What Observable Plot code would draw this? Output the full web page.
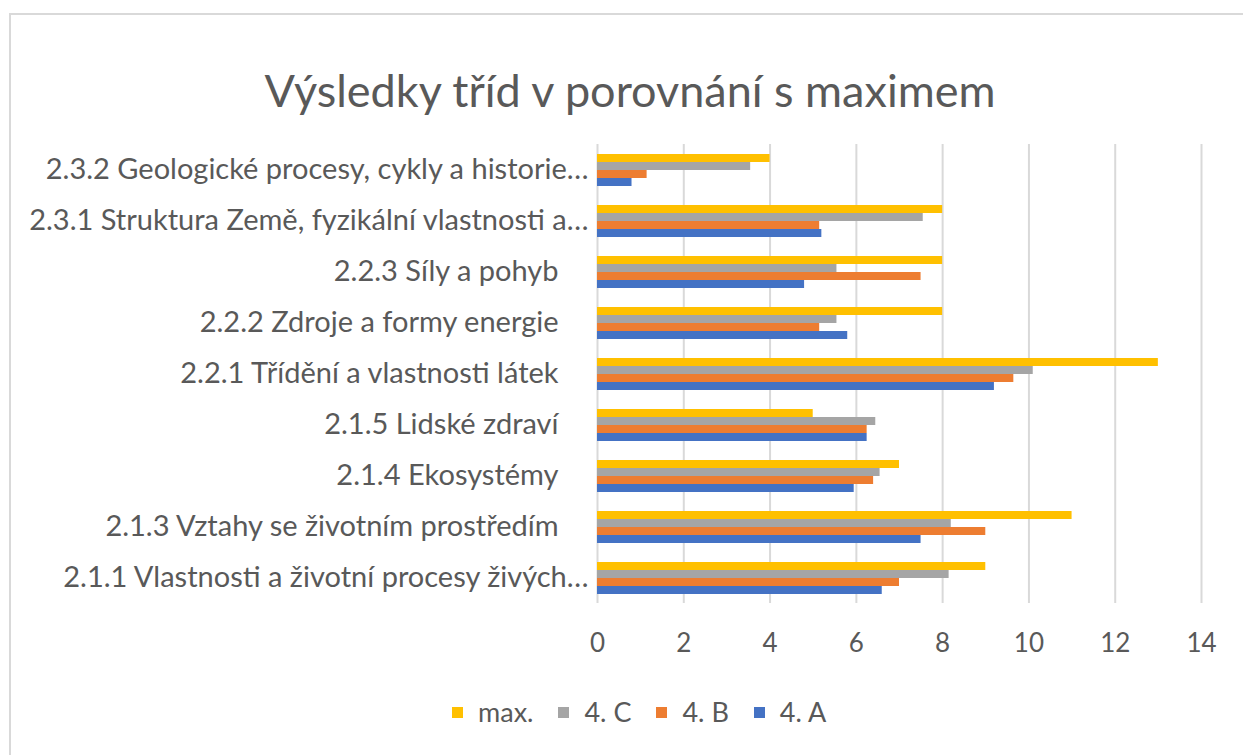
<!DOCTYPE html>
<html>
<head>
<meta charset="utf-8">
<script src="https://cdn.jsdelivr.net/npm/d3@7"></script>
<script src="https://cdn.jsdelivr.net/npm/@observablehq/plot@0.6"></script>
<style>
  html, body { margin: 0; padding: 0; background: #fff; width: 1243px; height: 755px; overflow: hidden; }
  #frame { position: absolute; left: 9px; top: 13px; width: 1300px; height: 800px;
           border-left: 2.5px solid #d9d9d9; border-top: 2.5px solid #d9d9d9; box-sizing: border-box; }
  #title { position: absolute; left: 0; top: 62px; width: 1260px; text-align: center;
           font-family: Lato, "Open Sans", sans-serif; font-size: 45px; color: #595959; line-height: 56px; white-space: nowrap; }
  #chart { position: absolute; left: 0; top: 130px; }
  #legend { position: absolute; top: 694px; left: 452px; display: flex;
            font-family: Lato, "Open Sans", sans-serif; font-size: 27px; color: #595959; line-height: 36px; }
  .item { display: flex; align-items: center; margin-right: 25px; }
  .sw { width: 11px; height: 11px; margin-right: 15px; }
</style>
</head>
<body>
<div id="frame"></div>
<div id="title">Výsledky tříd v porovnání s maximem</div>
<div id="chart"></div>
<div id="legend"></div>
<script>
const categories = [
  "2.3.2 Geologické procesy, cykly a historie…",
  "2.3.1 Struktura Země, fyzikální vlastnosti a…",
  "2.2.3 Síly a pohyb",
  "2.2.2 Zdroje a formy energie",
  "2.2.1 Třídění a vlastnosti látek",
  "2.1.5 Lidské zdraví",
  "2.1.4 Ekosystémy",
  "2.1.3 Vztahy se životním prostředím",
  "2.1.1 Vlastnosti a životní procesy živých…"
];
const series = ["max.", "4. C", "4. B", "4. A"];
const seriesColors = ["#FFC000", "#A5A5A5", "#ED7D31", "#4472C4"];
const maxValues = [4, 8, 8, 8, 13, 5, 7, 11, 9];
const classC = [3.55, 7.55, 5.55, 5.55, 10.1, 6.45, 6.55, 8.2, 8.15];
const classB = [1.15, 5.15, 7.5, 5.15, 9.65, 6.25, 6.4, 9.0, 7.0];
const classA = [0.8, 5.2, 4.8, 5.8, 9.2, 6.25, 5.95, 7.5, 6.6];
const xTicks = [0, 2, 4, 6, 8, 10, 12, 14];

const seriesValues = [maxValues, classC, classB, classA];
const table = categories.flatMap((c, i) =>
  series.map((s, j) => ({category: c, series: s, value: seriesValues[j][i]})));

const truncated = categories.filter(c => c.endsWith("…"));
const full = categories.filter(c => !c.endsWith("…"));

const chart = Plot.plot({
  width: 1243,
  height: 540,
  marginTop: 13,
  marginBottom: 67,
  marginLeft: 597,
  marginRight: 42,
  style: {fontFamily: "Lato, 'Open Sans', sans-serif", fontSize: "29px", color: "#595959", background: "transparent"},
  x: {domain: [0, 14], axis: null},
  fy: {domain: categories, padding: 0, axis: null},
  y: {domain: series, paddingInner: 0, paddingOuter: 1, axis: null},
  color: {domain: series, range: seriesColors},
  marks: [
    Plot.gridX(xTicks, {stroke: "#d9d9d9", strokeOpacity: 1, strokeWidth: 2}),
    Plot.barX(table, {x: "value", y: "series", fy: "category", fill: "series"}),
    Plot.axisX(xTicks, {tickSize: 0, tickPadding: 30, fill: "#595959", fontSize: 26, label: null, tickFormat: d => String(d)}),
    Plot.text(truncated, {fy: d => d, text: d => d, frameAnchor: "left", textAnchor: "end", dx: -9, fill: "#595959", fontSize: 29, letterSpacing: 0.5}),
    Plot.text(full, {fy: d => d, text: d => d, frameAnchor: "left", textAnchor: "end", dx: -39, fill: "#595959", fontSize: 29, letterSpacing: 0.5})
  ]
});
document.getElementById("chart").appendChild(chart);

const legend = document.getElementById("legend");
series.forEach((s, i) => {
  const item = document.createElement("div");
  item.className = "item";
  const sw = document.createElement("span");
  sw.className = "sw";
  sw.style.background = seriesColors[i];
  const t = document.createElement("span");
  t.textContent = s;
  item.appendChild(sw);
  item.appendChild(t);
  legend.appendChild(item);
});
</script>
</body>
</html>
